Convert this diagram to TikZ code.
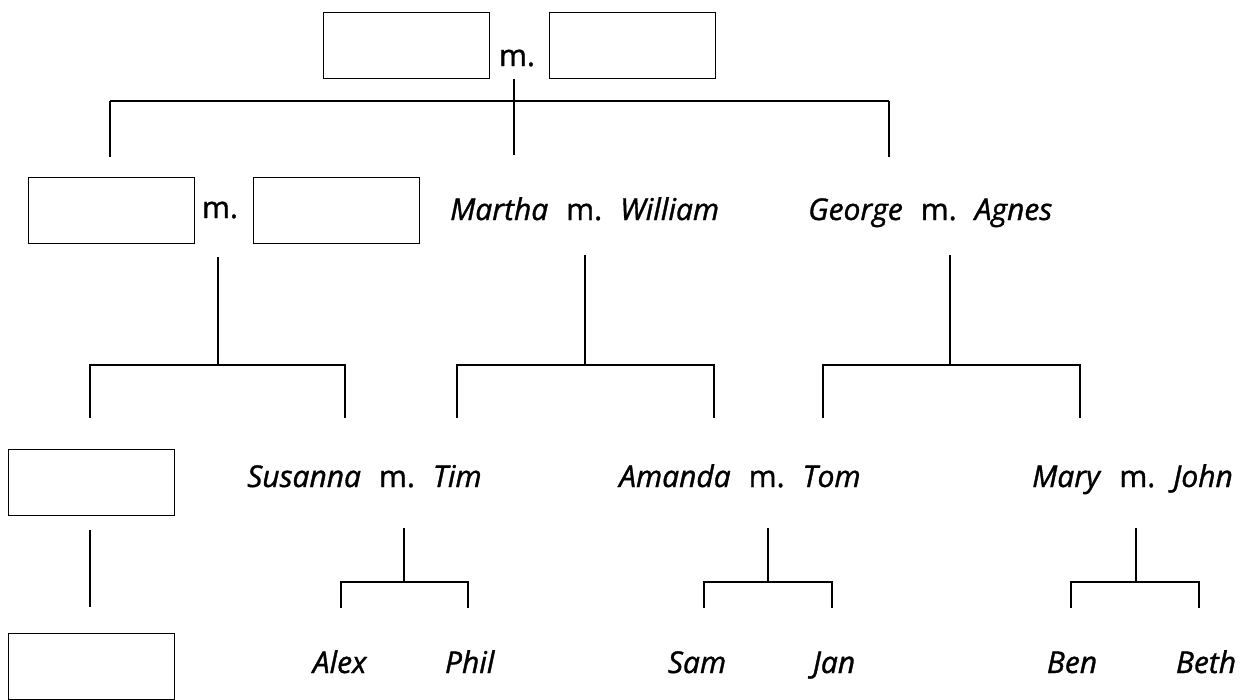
\documentclass[tikz,border=0pt]{standalone}
\usepackage{fontspec}
\setmainfont{Open Sans}[RawFeature={embolden=1.2}]
\begin{document}
\begin{tikzpicture}[x=1pt,y=-1pt,
  blank/.style={draw, line width=1.4pt, minimum width=166pt, minimum height=66pt, inner sep=0pt, anchor=north west},
  link/.style={line width=2.6pt},
  txt/.style={inner sep=0pt, anchor=base west, font=\fontsize{30}{33}\selectfont},
  mtxt/.style={inner sep=0pt, anchor=base, font=\fontsize{30}{33}\selectfont}]
\useasboundingbox (0,0) rectangle (1256,699);
\newcommand{\gapm}{\hspace{18pt}}
% level 1
\node[blank] (t1) at (323,12) {};
\node[blank] (t2) at (549,12) {};
\node[mtxt] (tm) at (517,66) {m.};
\coordinate (t0) at (514,79);
\coordinate (tj) at (514,101);
\coordinate (tl) at (110,101);
\coordinate (tr) at (889,101);
\coordinate (tld) at (110,157);
\coordinate (tmd) at (514,155);
\coordinate (trd) at (889,157);
\draw[link] (tl) -- (tr);
\draw[link] (t0) -- (tmd);
\draw[link] (tl) -- (tld);
\draw[link] (tr) -- (trd);
% level 2
\node[blank] (a1) at (28,177) {};
\node[blank] (a2) at (253,177) {};
\node[mtxt] (am) at (220,218) {m.};
\node[txt] (mw) at (450,220) {\textit{Martha}\gapm m.\gapm\textit{William}};
\node[txt] (ga) at (808,220) {\textit{George}\gapm m.\gapm\textit{Agnes}};
% left bracket
\coordinate (a0) at (218,257);
\coordinate (aj) at (218,365);
\coordinate (al) at (90,365);
\coordinate (ar) at (345,365);
\coordinate (ald) at (90,418);
\coordinate (ard) at (345,418);
\draw[link] (a0) -- (aj);
\draw[link] (ald) -- (al) -- (ar) -- (ard);
% Martha bracket
\coordinate (m0) at (585,255);
\coordinate (mj) at (585,365);
\coordinate (ml) at (457,365);
\coordinate (mr) at (714,365);
\coordinate (mld) at (457,418);
\coordinate (mrd) at (714,418);
\draw[link] (m0) -- (mj);
\draw[link] (mld) -- (ml) -- (mr) -- (mrd);
% George bracket
\coordinate (g0) at (950,255);
\coordinate (gj) at (950,365);
\coordinate (gl) at (823,365);
\coordinate (gr) at (1080,365);
\coordinate (gld) at (823,418);
\coordinate (grd) at (1080,418);
\draw[link] (g0) -- (gj);
\draw[link] (gld) -- (gl) -- (gr) -- (grd);
% level 3
\node[blank] (b1) at (8,449) {};
\node[txt] (st) at (247,487) {\textit{Susanna}\gapm m.\gapm\textit{Tim}};
\node[txt] (at) at (619,487) {\textit{Amanda}\gapm m.\gapm\textit{Tom}};
\node[txt] (mj2) at (1032,487) {\textit{Mary}\gapm m.\gapm\textit{John}};
\coordinate (b1d) at (90,530);
\coordinate (b2u) at (90,607);
\draw[link] (b1d) -- (b2u);
% Susanna bracket
\coordinate (s0) at (404,528);
\coordinate (sj) at (404,582);
\coordinate (sl) at (341,582);
\coordinate (sr) at (468,582);
\coordinate (sld) at (341,608);
\coordinate (srd) at (468,608);
\draw[link] (s0) -- (sj);
\draw[link] (sld) -- (sl) -- (sr) -- (srd);
% Amanda bracket
\coordinate (n0) at (768,528);
\coordinate (nj) at (768,582);
\coordinate (nl) at (704,582);
\coordinate (nr) at (832,582);
\coordinate (nld) at (704,608);
\coordinate (nrd) at (832,608);
\draw[link] (n0) -- (nj);
\draw[link] (nld) -- (nl) -- (nr) -- (nrd);
% Mary bracket
\coordinate (y0) at (1136,528);
\coordinate (yj) at (1136,582);
\coordinate (yl) at (1071,582);
\coordinate (yr) at (1199,582);
\coordinate (yld) at (1071,608);
\coordinate (yrd) at (1199,608);
\draw[link] (y0) -- (yj);
\draw[link] (yld) -- (yl) -- (yr) -- (yrd);
% level 4
\node[blank] (b2) at (8,633) {};
\node[mtxt] (alex) at (340,673) {\textit{Alex}};
\node[mtxt] (phil) at (470,673) {\textit{Phil}};
\node[mtxt] (sam) at (697,673) {\textit{Sam}};
\node[mtxt] (jan) at (834,673) {\textit{Jan}};
\node[mtxt] (ben) at (1072,673) {\textit{Ben}};
\node[mtxt] (beth) at (1206,673) {\textit{Beth}};
\end{tikzpicture}
\end{document}
